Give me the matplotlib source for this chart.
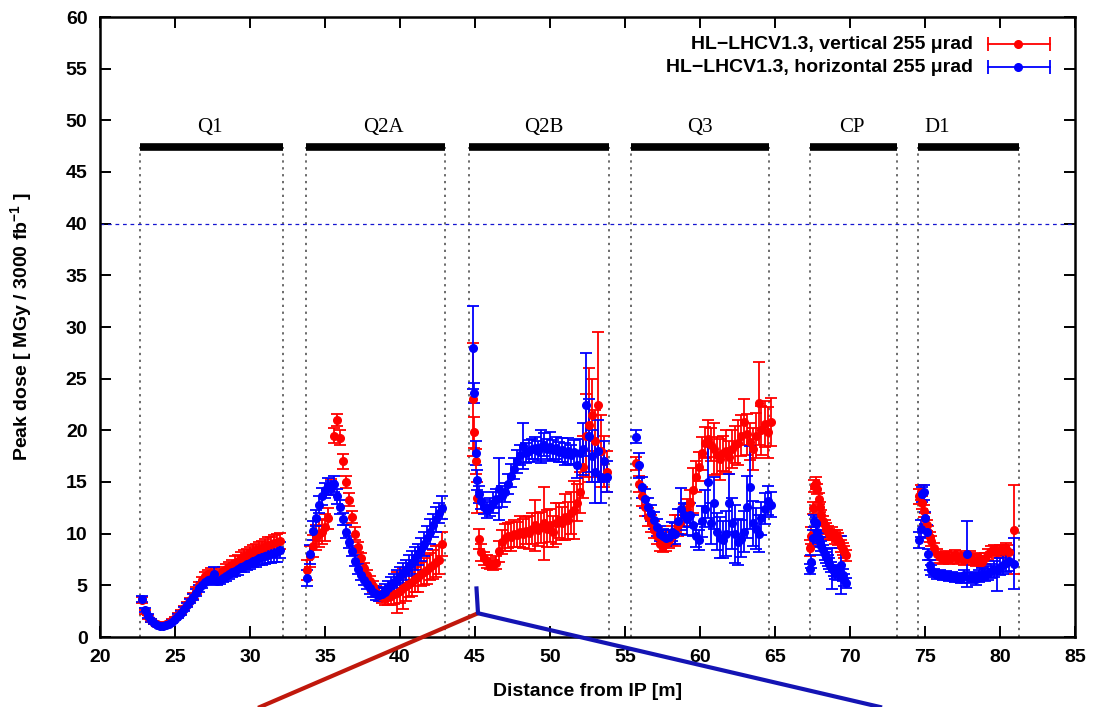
import numpy as np
import matplotlib.pyplot as plt
from matplotlib.lines import Line2D

plt.rcParams['font.family'] = ['Liberation Sans', 'DejaVu Sans']
plt.rcParams['mathtext.fontset'] = 'custom'
plt.rcParams['mathtext.bf'] = 'Liberation Sans:bold'
plt.rcParams['mathtext.rm'] = 'Liberation Sans:bold'

# magnets: name, start, end, label position
magnets = ['Q1', 'Q2A', 'Q2B', 'Q3', 'CP', 'D1']
mag_start = [22.67, 33.7, 44.62, 55.4, 67.3, 74.55]
mag_end = [32.18, 43.0, 53.9, 64.6, 73.1, 81.29]
mag_label_x = [27.3, 38.9, 49.6, 60.0, 70.1, 75.8]

# ---- Q1 ----
q1_x = [22.8, 23.0, 23.2, 23.4, 23.6, 23.8, 24.0, 24.2, 24.4, 24.6,
        24.8, 25.0, 25.2, 25.4, 25.6, 25.8, 26.0, 26.2, 26.4, 26.6,
        26.8, 27.0, 27.2, 27.4, 27.6, 27.8, 28.0, 28.2, 28.4, 28.6,
        28.8, 29.0, 29.2, 29.4, 29.6, 29.8, 30.0, 30.2, 30.4, 30.6,
        30.8, 31.0, 31.2, 31.4, 31.6, 31.8, 32.0]
q1_red = [3.6, 2.4, 1.9, 1.6, 1.4, 1.3, 1.2, 1.2, 1.3, 1.4,
          1.6, 1.8, 2.1, 2.4, 2.8, 3.2, 3.6, 4.0, 4.5, 5.0,
          5.5, 5.9, 6.1, 6.2, 6.0, 5.9, 6.1, 6.4, 6.6, 6.8,
          7.0, 7.2, 7.4, 7.6, 7.8, 7.9, 8.1, 8.2, 8.4, 8.5,
          8.6, 8.8, 8.9, 9.0, 9.1, 9.2, 9.3]
q1_red_err = [0.3, 0.2, 0.2, 0.1, 0.1, 0.1, 0.1, 0.1, 0.1, 0.1,
              0.1, 0.1, 0.2, 0.2, 0.2, 0.2, 0.2, 0.3, 0.3, 0.3,
              0.3, 0.4, 0.4, 0.5, 0.4, 0.4, 0.5, 0.4, 0.5, 0.5,
              0.5, 0.6, 0.5, 0.6, 0.6, 0.6, 0.6, 0.7, 0.6, 0.7,
              0.7, 0.7, 0.8, 0.7, 0.8, 0.8, 0.8]
q1_blue = [3.7, 2.6, 2.0, 1.6, 1.4, 1.2, 1.1, 1.1, 1.2, 1.3,
           1.5, 1.7, 2.0, 2.3, 2.7, 3.1, 3.5, 3.9, 4.3, 4.7,
           5.0, 5.3, 5.5, 5.6, 6.1, 5.4, 5.5, 5.7, 5.9, 6.1,
           6.3, 6.4, 6.6, 6.8, 6.9, 7.1, 7.2, 7.4, 7.5, 7.6,
           7.7, 7.8, 7.9, 8.0, 8.1, 8.2, 8.4]
q1_blue_err = [0.3, 0.2, 0.2, 0.1, 0.1, 0.1, 0.1, 0.1, 0.1, 0.1,
               0.1, 0.1, 0.2, 0.2, 0.2, 0.2, 0.2, 0.3, 0.3, 0.3,
               0.3, 0.3, 0.4, 0.4, 0.7, 0.4, 0.4, 0.4, 0.5, 0.5,
               0.5, 0.5, 0.6, 0.5, 0.6, 0.6, 0.6, 0.6, 0.7, 0.6,
               0.7, 0.7, 0.7, 0.8, 0.8, 0.9, 0.8]

# ---- Q2A ----
q2a_x = [33.8, 34.0, 34.2, 34.4, 34.6, 34.8, 35.0, 35.2, 35.4, 35.6,
         35.8, 36.0, 36.2, 36.4, 36.6, 36.8, 37.0, 37.2, 37.4, 37.6,
         37.8, 38.0, 38.2, 38.4, 38.6, 38.8, 39.0, 39.2, 39.4, 39.6,
         39.8, 40.0, 40.2, 40.4, 40.6, 40.8, 41.0, 41.2, 41.4, 41.6,
         41.8, 42.0, 42.2, 42.4, 42.6, 42.8]
q2a_red = [6.5, 7.8, 8.8, 9.6, 10.0, 10.2, 10.6, 11.5, 14.5, 19.5,
           21.0, 19.3, 17.0, 15.0, 13.3, 11.6, 10.0, 8.7, 7.6, 6.7,
           6.0, 5.4, 4.9, 4.4, 4.1, 3.9, 3.8, 3.9, 4.0, 4.2,
           4.3, 4.5, 4.7, 4.9, 5.1, 5.3, 5.6, 5.8, 6.1, 6.3,
           6.5, 6.8, 7.0, 7.3, 7.5, 9.0]
q2a_red_err = [1.0, 1.0, 1.1, 1.2, 1.3, 1.2, 1.3, 1.0, 0.8, 0.7,
               0.6, 0.7, 0.7, 0.6, 0.6, 0.6, 0.6, 0.5, 0.5, 0.5,
               0.5, 0.5, 0.5, 0.5, 0.6, 0.6, 0.7, 0.8, 0.9, 1.0,
               2.0, 1.2, 2.0, 1.4, 1.2, 1.3, 1.2, 1.4, 1.2, 1.3,
               1.4, 1.3, 1.4, 1.5, 1.4, 1.2]
q2a_blue = [5.7, 8.0, 10.3, 11.5, 12.8, 13.6, 14.2, 14.6, 14.4, 14.8,
            13.6, 12.6, 11.4, 10.2, 9.2, 8.3, 7.4, 6.6, 6.0, 5.5,
            5.1, 4.7, 4.4, 4.2, 4.1, 4.2, 4.4, 4.7, 5.0, 5.3,
            5.6, 5.9, 6.2, 6.5, 6.9, 7.2, 7.6, 8.0, 8.5, 9.0,
            9.6, 10.2, 10.8, 11.4, 12.0, 12.5]
q2a_blue_err = [0.8, 0.9, 0.9, 0.8, 0.8, 0.8, 0.7, 0.8, 0.7, 0.8,
                0.7, 0.7, 0.6, 0.6, 0.6, 0.5, 0.5, 0.5, 0.5, 0.5,
                0.5, 0.5, 0.5, 0.6, 0.6, 0.6, 0.7, 0.7, 0.8, 0.8,
                0.9, 0.9, 1.0, 1.0, 1.0, 1.1, 1.1, 1.0, 1.1, 1.2,
                1.1, 1.2, 1.1, 1.2, 1.0, 1.1]

# ---- Q2B ----
q2b_x = [44.85, 44.95, 45.05, 45.15, 45.25,
         45.4, 45.6, 45.8, 46.0, 46.2, 46.4, 46.6, 46.8, 47.0, 47.2,
         47.4, 47.6, 47.8, 48.0, 48.2, 48.4, 48.6, 48.8, 49.0, 49.2,
         49.4, 49.6, 49.8, 50.0, 50.2, 50.4, 50.6, 50.8, 51.0, 51.2,
         51.4, 51.6, 51.8, 52.0, 52.2, 52.4, 52.6, 52.8, 53.0, 53.2,
         53.4, 53.6, 53.8]
q2b_red = [23.0, 19.8, 17.0, 13.5, 9.5,
           8.2, 7.6, 7.3, 7.1, 7.0, 7.2, 8.3, 9.2, 9.6, 9.8,
           9.7, 10.0, 9.9, 10.2, 10.0, 10.3, 10.1, 10.5, 10.8, 10.4,
           10.6, 11.0, 10.5, 10.8, 10.2, 11.0, 11.3, 11.0, 11.6, 11.3,
           12.0, 12.3, 13.0, 14.0, 16.5, 19.5, 20.5, 21.5, 19.0, 22.5,
           18.0, 17.0, 16.0]
q2b_red_err = [5.5, 1.5, 1.2, 1.5, 1.0,
               0.8, 0.6, 0.6, 0.5, 0.5, 0.6, 1.0, 1.2, 1.3, 1.2,
               1.4, 1.3, 1.2, 1.5, 1.4, 1.3, 1.6, 1.5, 2.5, 1.6,
               1.5, 3.5, 1.8, 1.6, 1.5, 2.0, 1.7, 1.6, 2.2, 1.8,
               2.0, 2.8, 1.8, 2.0, 3.0, 4.0, 5.5, 3.5, 3.0, 7.0,
               3.5, 2.5, 2.0]
q2b_blue = [28.0, 23.6, 17.8, 15.2, 13.8,
            13.2, 12.6, 12.3, 12.6, 13.0, 13.4, 14.3, 13.6, 14.0, 14.8,
            15.6, 16.3, 17.0, 17.6, 18.5, 17.8, 18.0, 18.2, 18.3, 18.0,
            18.4, 18.6, 18.2, 18.4, 18.1, 18.3, 17.9, 18.1, 17.7, 18.0,
            17.6, 17.9, 16.6, 17.8, 18.2, 22.5, 19.5, 17.5, 16.0, 18.0,
            15.5, 17.0, 15.5]
q2b_blue_err = [4.0, 1.0, 1.2, 1.0, 0.8,
                0.8, 0.7, 0.8, 0.9, 1.0, 0.9, 3.0, 1.0, 0.9, 1.0,
                1.1, 1.0, 1.1, 1.0, 2.2, 1.0, 1.1, 1.0, 1.1, 1.0,
                1.6, 1.1, 1.0, 1.4, 1.0, 1.1, 1.0, 1.2, 1.1, 1.3,
                1.0, 1.2, 1.2, 1.4, 2.5, 5.0, 3.5, 2.5, 3.0, 3.0,
                2.5, 2.0, 1.5]

# ---- Q3 ----
q3_x = [55.7, 55.9, 56.1, 56.3, 56.5, 56.7, 56.9, 57.1, 57.3, 57.5,
        57.7, 57.9, 58.1, 58.3, 58.5, 58.7, 58.9, 59.1, 59.3, 59.5,
        59.7, 59.9, 60.1, 60.3, 60.5, 60.7, 60.9, 61.1, 61.3, 61.5,
        61.7, 61.9, 62.1, 62.3, 62.5, 62.7, 62.9, 63.1, 63.3, 63.5,
        63.7, 63.9, 64.1, 64.3, 64.5, 64.7]
q3_red = [16.8, 14.8, 13.6, 12.6, 11.6, 11.0, 10.4, 9.8, 9.0, 8.8,
          9.0, 9.4, 9.8, 10.3, 10.8, 11.2, 11.8, 12.4, 13.0, 14.2,
          15.5, 16.5, 17.8, 18.8, 19.2, 18.6, 18.2, 17.6, 17.2, 17.8,
          18.0, 17.4, 18.2, 18.6, 18.8, 19.5, 20.8, 19.6, 18.9, 18.2,
          19.5, 22.6, 20.0, 20.6, 19.8, 20.8]
q3_red_err = [0.6, 0.8, 0.9, 0.9, 0.9, 0.8, 0.8, 0.8, 0.7, 0.6,
              0.7, 0.8, 0.9, 1.5, 1.0, 1.2, 1.1, 1.0, 1.2, 2.2,
              1.5, 1.4, 1.6, 1.5, 1.8, 1.6, 2.5, 1.8, 2.0, 1.7,
              2.0, 1.6, 1.8, 1.8, 2.2, 2.0, 2.2, 2.0, 1.8, 2.0,
              2.2, 4.0, 2.4, 2.2, 2.5, 2.3]
q3_blue = [19.4, 16.6, 14.5, 13.4, 12.6, 12.0, 11.3, 10.6, 10.0, 9.8,
           9.6, 9.7, 10.2, 10.0, 11.2, 12.4, 11.8, 11.4, 11.8, 10.8,
           9.8, 9.4, 11.2, 12.4, 15.0, 11.0, 13.0, 10.2, 9.6, 9.4,
           10.0, 13.0, 11.0, 10.0, 9.2, 9.5, 10.2, 12.6, 14.5, 11.0,
           10.5, 10.0, 11.5, 12.4, 13.2, 12.8]
q3_blue_err = [0.6, 1.2, 1.0, 0.9, 0.9, 0.8, 0.8, 0.8, 0.7, 0.7,
               0.8, 0.7, 0.9, 1.0, 1.2, 2.0, 1.2, 1.5, 1.2, 1.0,
               1.1, 1.0, 1.5, 1.8, 3.5, 2.0, 2.5, 1.8, 2.0, 1.8,
               2.2, 2.8, 2.5, 2.8, 2.2, 1.8, 2.0, 3.0, 4.0, 2.2,
               2.0, 1.8, 1.6, 1.5, 1.4, 1.2]

# ---- CP ----
cp_x = [67.3, 67.4, 67.5, 67.6, 67.7, 67.8, 67.9, 68.0, 68.1, 68.2,
        68.3, 68.4, 68.5, 68.6, 68.7, 68.8, 68.9, 69.0, 69.1, 69.2,
        69.3, 69.4, 69.5, 69.6, 69.7]
cp_red = [8.6, 9.8, 12.5, 14.6, 14.9, 14.3, 13.4, 12.6, 11.8, 11.2,
          10.8, 10.5, 10.2, 10.0, 9.9, 10.0, 9.9, 9.6, 9.8, 9.5,
          9.2, 8.8, 8.5, 8.2, 7.9]
cp_red_err = [0.8, 0.8, 0.6, 0.6, 0.6, 0.5, 0.5, 0.5, 0.5, 0.5,
              0.5, 0.5, 0.5, 0.5, 0.5, 0.6, 0.5, 0.6, 0.6, 0.6,
              0.6, 0.6, 0.6, 0.6, 0.5]
cp_blue = [6.6, 7.3, 9.6, 11.2, 11.0, 10.2, 9.6, 9.2, 8.8, 8.4,
           8.0, 7.7, 7.4, 7.1, 6.8, 6.6, 6.4, 6.2, 6.3, 6.1,
           6.4, 7.0, 6.0, 5.5, 5.2]
cp_blue_err = [0.5, 0.6, 0.8, 0.6, 0.6, 0.6, 0.5, 0.5, 0.5, 0.5,
               0.5, 0.5, 0.5, 0.5, 0.5, 2.0, 0.5, 0.6, 0.5, 0.6,
               0.6, 2.8, 0.6, 0.6, 0.5]

# ---- D1 ----
d1_x = [74.6, 74.7, 74.8, 74.9, 75.0, 75.1, 75.2, 75.3, 75.4,
        75.6, 75.8, 76.0, 76.2, 76.4, 76.6, 76.8, 77.0, 77.2, 77.4,
        77.6, 77.8, 78.0, 78.2, 78.4, 78.6, 78.8, 79.0, 79.2, 79.4,
        79.6, 79.8, 80.0, 80.2, 80.4, 80.6, 80.9]
d1_red = [13.6, 14.0, 13.0, 12.2, 11.4, 10.8, 10.2, 9.7, 9.3,
          8.6, 8.0, 7.7, 7.6, 7.8, 7.6, 7.7, 7.9, 7.6, 7.8,
          7.5, 7.6, 7.8, 7.5, 7.4, 7.6, 7.3, 7.6, 8.0, 8.3,
          8.4, 8.2, 8.4, 8.3, 8.5, 8.2, 10.4]
d1_red_err = [0.7, 0.7, 0.6, 0.6, 0.6, 0.5, 0.5, 0.5, 0.5,
              0.5, 0.5, 0.5, 0.5, 0.5, 0.5, 0.5, 0.5, 0.5, 0.5,
              0.5, 0.5, 0.5, 0.5, 0.5, 0.5, 0.5, 0.5, 0.5, 0.5,
              0.5, 0.6, 0.5, 0.6, 0.6, 0.7, 4.3]
d1_blue = [9.4, 10.5, 13.8, 14.0, 11.5, 10.2, 8.0, 7.0, 6.5,
           6.2, 6.0, 6.1, 5.9, 6.0, 5.8, 5.9, 5.7, 5.8, 5.6,
           6.0, 8.0, 5.7, 5.8, 5.6, 5.9, 6.1, 6.0, 6.2, 6.4,
           6.6, 6.5, 6.8, 7.0, 7.2, 7.4, 7.1]
d1_blue_err = [0.8, 0.8, 0.7, 0.7, 0.6, 0.6, 0.5, 0.5, 0.5,
               0.4, 0.4, 0.4, 0.4, 0.4, 0.4, 0.4, 0.4, 0.4, 0.4,
               0.5, 3.2, 0.5, 0.5, 0.6, 0.6, 0.6, 0.6, 0.7, 0.7,
               0.8, 2.0, 0.8, 0.9, 0.9, 1.0, 2.5]

x_all = np.concatenate([q1_x, q2a_x, q2b_x, q3_x, cp_x, d1_x])
red_all = np.concatenate([q1_red, q2a_red, q2b_red, q3_red, cp_red, d1_red])
red_err_all = np.concatenate([q1_red_err, q2a_red_err, q2b_red_err,
                              q3_red_err, cp_red_err, d1_red_err])
blue_all = np.concatenate([q1_blue, q2a_blue, q2b_blue, q3_blue, cp_blue, d1_blue])
blue_err_all = np.concatenate([q1_blue_err, q2a_blue_err, q2b_blue_err,
                               q3_blue_err, cp_blue_err, d1_blue_err])

fig = plt.figure(figsize=(10.94, 7.07), dpi=100)
ax = fig.add_axes([100 / 1094, 70 / 707, 975 / 1094, 620 / 707])

# magnets: dotted borders, thick bars, labels
bar_y = 47.4
for name, a, b, lx in zip(magnets, mag_start, mag_end, mag_label_x):
    ax.plot([a, a], [0, bar_y], color='#444444', ls=(0, (1.5, 3)), lw=1.1)
    ax.plot([b, b], [0, bar_y], color='#444444', ls=(0, (1.5, 3)), lw=1.1)
    ax.plot([a, b], [bar_y, bar_y], color='black', lw=5.5, solid_capstyle='butt')
    ax.text(lx, 49.3, name, ha='center', va='center', fontsize=15,
            family=['Liberation Serif', 'DejaVu Serif'])

ax.axhline(40, color='#1515d0', ls=(0, (3, 3)), lw=0.9)

ax.errorbar(x_all, red_all, yerr=red_err_all, fmt='o', color='#ff0000',
            ms=5.5, elinewidth=1.3, capsize=4, capthick=1.3)
ax.errorbar(x_all, blue_all, yerr=blue_err_all, fmt='o', color='#0000ff',
            ms=5.5, elinewidth=1.3, capsize=4, capthick=1.3)

ax.set_xlim(20, 85)
ax.set_ylim(0, 60)
ax.set_xticks(np.arange(20, 86, 5))
ax.set_yticks(np.arange(0, 61, 5))
ax.tick_params(direction='in', length=8, width=1.4, top=True, right=True,
               labelsize=14, pad=9)
for lab in ax.get_xticklabels() + ax.get_yticklabels():
    lab.set_fontweight('bold')
for s in ax.spines.values():
    s.set_linewidth(1.8)

ax.set_xlabel('Distance from IP [m]', fontsize=14, fontweight='bold', labelpad=12)
ax.set_ylabel('Peak dose [ MGy / 3000 fb$^{\\mathbf{-1}}$ ]', fontsize=14,
              fontweight='bold', labelpad=22)

# legend drawn gnuplot-style
leg_labels = ['HL\u2212LHCV1.3, vertical 255 \u03bcrad',
              'HL\u2212LHCV1.3, horizontal 255 \u03bcrad']
leg_colors = ['#ff0000', '#0000ff']
leg_y = [0.956, 0.919]
for lab, c, yy in zip(leg_labels, leg_colors, leg_y):
    ax.text(0.895, yy, lab, transform=ax.transAxes, ha='right', va='center',
            fontsize=14, fontweight='bold')
    ax.plot([0.911, 0.974], [yy, yy], transform=ax.transAxes, color=c, lw=1.3,
            clip_on=False)
    ax.plot([0.911, 0.974], [yy, yy], transform=ax.transAxes, color=c, ls='none',
            marker='|', ms=10, mew=1.3, clip_on=False)
    ax.plot([0.942], [yy], transform=ax.transAxes, color=c, marker='o', ms=5.5,
            clip_on=False)

# zoom callout lines below the axis
inv = fig.transFigure.inverted()
p_top = inv.transform(ax.transData.transform((45.1, 4.7)))
p_mid = inv.transform(ax.transData.transform((45.2, 2.3)))
red_end = (260 / 1094, 0.0)
blue_end = (880 / 1094, 0.0)
fig.add_artist(Line2D([p_mid[0], red_end[0]], [p_mid[1], red_end[1]],
                      transform=fig.transFigure, color='#c0180c', lw=3.0))
fig.add_artist(Line2D([p_top[0], p_mid[0], blue_end[0]],
                      [p_top[1], p_mid[1], blue_end[1]],
                      transform=fig.transFigure, color='#1414b4', lw=3.0))

fig.savefig('out.png', dpi=100)
